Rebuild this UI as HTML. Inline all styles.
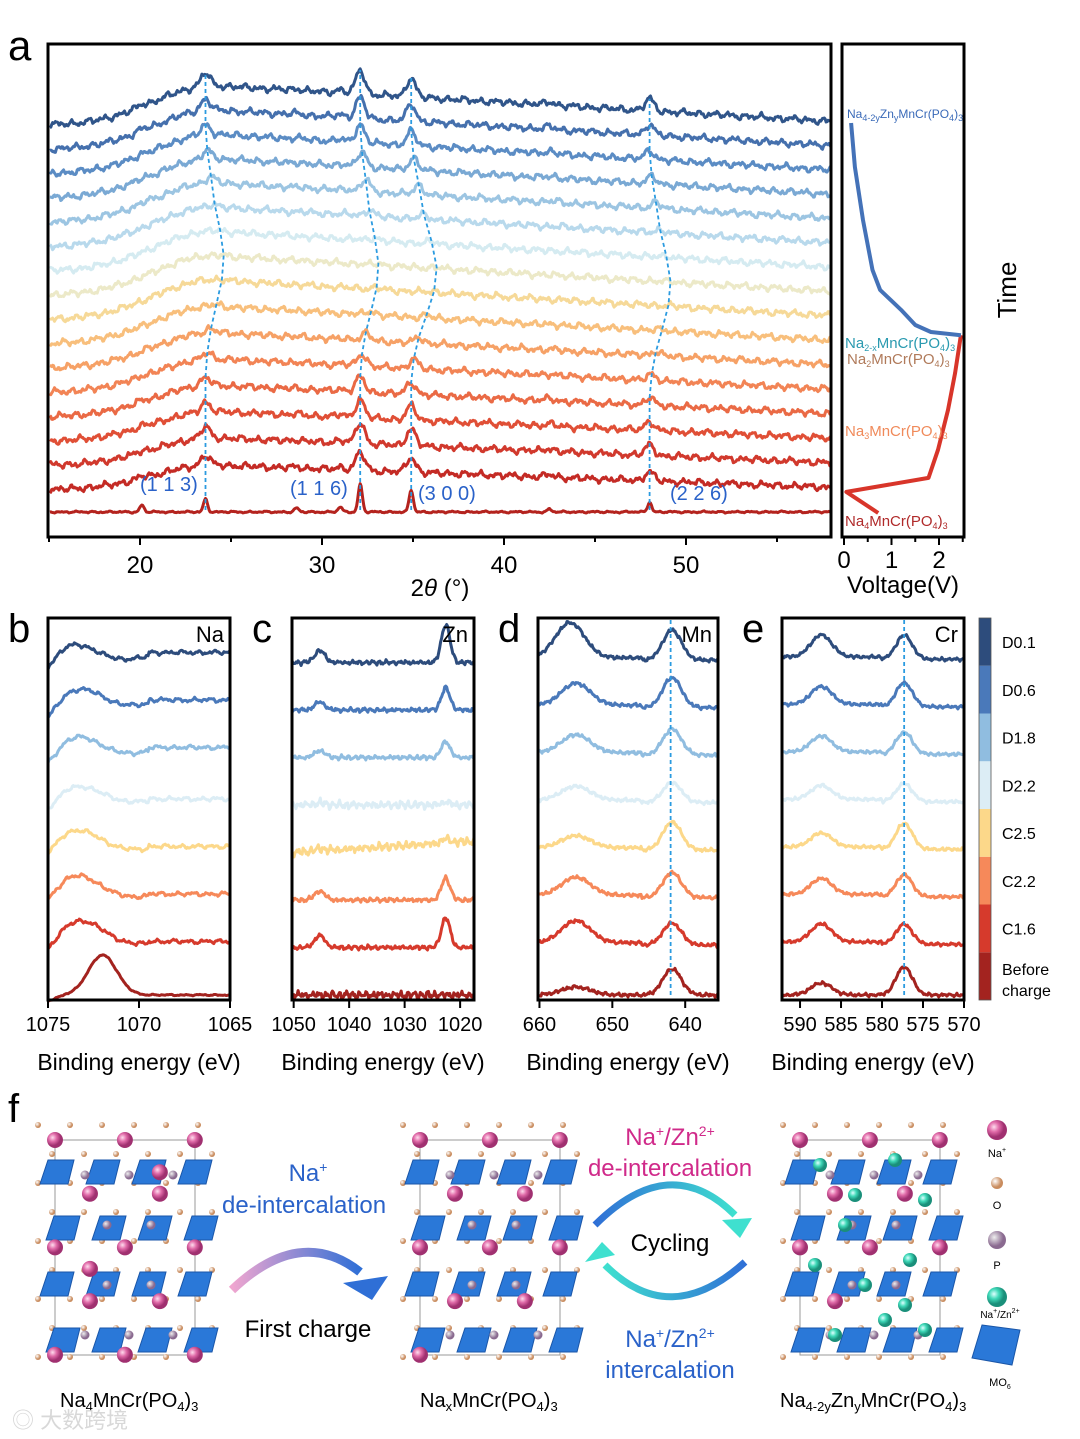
<!DOCTYPE html>
<html><head><meta charset="utf-8">
<style>
body{margin:0;background:#fff;}
svg{display:block;font-family:"Liberation Sans","Noto Sans CJK SC",sans-serif;}
</style></head>
<body>
<svg id="fig" width="1080" height="1439" viewBox="0 0 1080 1439" xmlns="http://www.w3.org/2000/svg">
<defs>
<linearGradient id="g1" x1="0" x2="1"><stop offset="0" stop-color="#f0a6d0"/><stop offset="1" stop-color="#2f6fd6"/></linearGradient>
<linearGradient id="g2" x1="0" x2="1"><stop offset="0" stop-color="#2f6fd6"/><stop offset="1" stop-color="#3fe0cf"/></linearGradient>
<linearGradient id="g3" x1="0" x2="1"><stop offset="0" stop-color="#3fe0cf"/><stop offset="1" stop-color="#2f6fd6"/></linearGradient>
<radialGradient id="pink" cx="0.35" cy="0.35"><stop offset="0" stop-color="#fde"/><stop offset="0.5" stop-color="#e06aa8"/><stop offset="1" stop-color="#a03070"/></radialGradient>
<radialGradient id="teal" cx="0.35" cy="0.35"><stop offset="0" stop-color="#dfffff"/><stop offset="0.5" stop-color="#3fd9b8"/><stop offset="1" stop-color="#1a8f7a"/></radialGradient>
<radialGradient id="purp" cx="0.35" cy="0.35"><stop offset="0" stop-color="#eee"/><stop offset="1" stop-color="#8a6a90"/></radialGradient>
<radialGradient id="tan" cx="0.35" cy="0.35"><stop offset="0" stop-color="#fff"/><stop offset="1" stop-color="#c98c5e"/></radialGradient>
</defs>
<g id="layer"></g>
</svg>
<script>
// ---------- Panel a data ----------
const traceLabels = ['ref','t1','t2','t3','t4','t5','t6','t7','t8','t9','t10','t11','t12','t13','t14','t15','t16'];
const peakCenters = [20.1, 23.6, 28.6, 31.0, 32.1, 34.9, 42.5, 48.0];
const refHeights = [7, 13, 4, 5, 28, 22, 3, 10];
const trHeights = [3, 16, 2, 4, 30, 24, 4, 15];
const peakShiftFactor = [0.8, 1, 1, 1, 1, 1.4, 1.1, 1.15];
const traceShift = [0, 0, 0, 0, 0, 0.1, 0.3, 0.6, 0.9, 1.0, 0.8, 0.5, 0.3, 0.1, 0, 0, 0];
const traceIntensity = [1, 0.6, 0.7, 0.6, 0.5, 0.4, 0.25, 0.12, 0.06, 0.05, 0.1, 0.2, 0.4, 0.5, 0.6, 0.7, 0.8];
const humpAmp = [0, 25, 28, 30, 32, 34, 36, 38, 40, 40, 40, 40, 40, 40, 40, 40, 40];
const xTicksA = [20, 30, 40, 50];
const voltTicks = [0, 1, 2];
const chargeV = [0.72, 0.05, 1.78, 1.98, 2.19, 2.34, 2.46];
const chargeT = [0, 5.4, 9.0, 16.2, 26.4, 35.9, 45.6];
const dischargeV = [2.46, 1.83, 1.5, 1.2, 0.76, 0.6, 0.4, 0.23, 0.15];
const dischargeT = [45.6, 46.4, 48.2, 52.1, 57.2, 62.3, 75.1, 88.7, 100];
// ---------- XPS data (bottom -> top) ----------
const stateLabels = ['Before charge','C1.6','C2.2','C2.5','D2.2','D1.8','D0.6','D0.1'];
const naCenter = [1072.0, 1073.3, 1073.5, 1073.5, 1073.4, 1073.5, 1073.4, 1073.7];
const naHeight = [40, 32, 30, 28, 24, 30, 30, 28];
const znCenters = [1045.3, 1022.6];
const znHigh = [0, 30, 22, 4, 3, 16, 22, 38];
const znLow = [0, 12, 9, 2, 2, 7, 8, 12];
const mnHigh = [26, 22, 25, 28, 20, 26, 30, 30];
const mnLow = [8, 22, 18, 12, 14, 18, 22, 35];
const crHigh = [28, 20, 22, 26, 18, 22, 24, 24];
const crLow = [12, 18, 16, 14, 14, 16, 18, 22];
const stateColors = ['#a3231f','#d63a2c','#f6895a','#fcd88a','#dcedf5','#90bde0','#4a79ba','#2d4c7c'];

const NS='http://www.w3.org/2000/svg';
const L=document.getElementById('layer');
function mk(tag,attrs,parent){const e=document.createElementNS(NS,tag);for(const k in attrs)e.setAttribute(k,attrs[k]);(parent||L).appendChild(e);return e;}
function txt(x,y,s,size,attrs,parent){const e=mk('text',Object.assign({x:x,y:y,'font-size':size,fill:'#000'},attrs||{}),parent);e.innerHTML=s;return e;}
function wig(d,i,a){return a*(0.9*Math.sin(d*7.3+i*1.7)+0.6*Math.sin(d*13.1+i*2.9)+0.5*Math.sin(d*23.7+i*0.8)+0.35*Math.sin(d*41.3+i*3.3)+0.3*Math.sin(d*3.1+i*2.2));}
const g=(d,c,s)=>Math.exp(-((d-c)/s)*((d-c)/s));

// ---------- Panel a ----------
const colorsA=['#b4231e','#c42b25','#d1392d','#e04f36','#ea6a45','#f28455','#f6a166','#f8bf7c','#f6d998','#ece9c8','#d5ebf1','#b8d9ec','#9cc5e2','#7aa9d4','#5b8cc4','#4570ad','#30558a'];
const xa=d=>49+(d-15)*18.2;
const baseA=i=>i===0?512:490-(i-1)*24.3;
function hump(d){return d<24?g(d,24,4.5):Math.max(0,1-(d-24)/38);}
function yA(i,d){
  let y=baseA(i)-humpAmp[i]*hump(d);
  peakCenters.forEach((c,k)=>{const cc=c+traceShift[i]*peakShiftFactor[k];
    const h=i===0?refHeights[k]:trHeights[k]*traceIntensity[i];
    y-=h*g(d,cc,i===0?0.16:0.35);});
  y-=wig(d,i,i===0?0.5:1.9);
  return y;}
const ga=mk('g',{});


for(let i=0;i<traceLabels.length;i++){
  let p='';for(let d=15.05;d<=57.95;d+=0.05){p+=(p?'L':'M')+xa(d).toFixed(1)+','+yA(i,d).toFixed(1);}
  const e=mk('path',{d:p,fill:'none',stroke:colorsA[i],'stroke-width':3,'stroke-linejoin':'round'},ga);
  
  
}
[1,4,5,7].forEach(k=>{
  let p='';for(let i=0;i<traceLabels.length;i++){const cc=peakCenters[k]+traceShift[i]*peakShiftFactor[k];
    p+=(p?'L':'M')+xa(cc).toFixed(1)+','+(baseA(i)-(i===0?2:humpAmp[i]*hump(cc)+trHeights[k]*traceIntensity[i])).toFixed(1);}
  const e=mk('path',{d:p,fill:'none',stroke:'#2b9be0','stroke-width':1.8,'stroke-dasharray':'4,3'},ga);
  
  
});
mk('rect',{x:48,y:44,width:783,height:493,fill:'none',stroke:'#000','stroke-width':3},ga);
xTicksA.forEach(t=>{mk('line',{x1:xa(t),x2:xa(t),y1:537,y2:545,stroke:'#000','stroke-width':2},ga);
  txt(xa(t),573,t,24,{'text-anchor':'middle'},ga);});
[15,25,35,45,55].forEach(t=>mk('line',{x1:xa(t),x2:xa(t),y1:537,y2:542,stroke:'#000','stroke-width':2},ga));
txt(440,596,'2<tspan font-style="italic">θ</tspan> (°)',24,{'text-anchor':'middle'},ga);
const pl=[['(1 1 3)',140,491],['(1 1 6)',290,495],['(3 0 0)',418,500],['(2 2 6)',670,500]];
pl.forEach(q=>{const e=txt(q[1],q[2],q[0],20,{fill:'#2a62c9'},ga);});
txt(8,60,'a',42,{},ga);

// voltage panel
const gv=mk('g',{});


const xv=v=>844+v*47.5, yt=t=>513-t*3.9;
function poly(vs,ts){return vs.map((v,i)=>(i?'L':'M')+xv(v).toFixed(1)+','+yt(ts[i]).toFixed(1)).join('');}
const ce=mk('path',{d:poly(chargeV,chargeT),fill:'none',stroke:'#d8352a','stroke-width':4,'stroke-linejoin':'round'},gv);


const de=mk('path',{d:poly(dischargeV,dischargeT),fill:'none',stroke:'#4472b8','stroke-width':4,'stroke-linejoin':'round'},gv);


mk('rect',{x:842,y:44,width:122,height:493,fill:'none',stroke:'#000','stroke-width':3},gv);
voltTicks.forEach(t=>{mk('line',{x1:xv(t),x2:xv(t),y1:537,y2:545,stroke:'#000','stroke-width':2},gv);txt(xv(t),568,t,24,{'text-anchor':'middle'},gv);});
[0.5,1.5,2.5].forEach(t=>mk('line',{x1:xv(t),x2:xv(t),y1:537,y2:542,stroke:'#000','stroke-width':2},gv));
txt(903,593,'Voltage(V)',24,{'text-anchor':'middle'},gv);
txt(0,0,'Time',26,{transform:'translate(1016,290) rotate(-90)','text-anchor':'middle'},gv);
const sub=(s)=>'<tspan font-size="9" dy="3">'+s+'</tspan><tspan dy="-3">';
txt(847,118,'Na'+sub('4-2y')+'Zn'+sub('y')+'MnCr(PO'+sub('4')+')'+sub('3')+'</tspan></tspan></tspan></tspan>',12,{fill:'#3a6ab8'},gv);
txt(845,348,'Na'+sub('2-x')+'MnCr(PO'+sub('4')+')'+sub('3')+'</tspan></tspan></tspan>',15,{fill:'#2a9ab0'},gv);
txt(847,364,'Na'+sub('2')+'MnCr(PO'+sub('4')+')'+sub('3')+'</tspan></tspan></tspan>',15,{fill:'#b07a5a'},gv);
txt(845,436,'Na'+sub('3')+'MnCr(PO'+sub('4')+')'+sub('3')+'</tspan></tspan></tspan>',15,{fill:'#f08a5a'},gv);
txt(845,526,'Na'+sub('4')+'MnCr(PO'+sub('4')+')'+sub('3')+'</tspan></tspan></tspan>',15,{fill:'#b02a2a'},gv);

// ---------- XPS panels ----------
const panels=[
 {id:'na',x0:48,x1:230,lo:1075,hi:1065,ticks:[1075,1070,1065],el:'Na',let:'b',dash:null},
 {id:'zn',x0:292,x1:474,lo:1050.3,hi:1017.5,ticks:[1050,1040,1030,1020],el:'Zn',let:'c',dash:null},
 {id:'mn',x0:538,x1:718,lo:660.2,hi:635.5,ticks:[660,650,640],el:'Mn',let:'d',dash:642},
 {id:'cr',x0:782,x1:964,lo:592.2,hi:570,ticks:[590,585,580,575,570],el:'Cr',let:'e',dash:577.3}];
function yX(p,i,e){
  const b=995-i*47.5; let y=b;
  if(p.id==='na'){y-=naHeight[i]*g(e,naCenter[i],i===0?1.1:1.9); y-=(i===0?0:6+(i>4?4:0))*(e<1069.5?1:0.6+0.4*(1069.5-e)); y+=(e>1074?(e-1074)*6:0); y-=wig(e,i,i===0?0.4:1.2);}
  if(p.id==='zn'){y-=znHigh[i]*g(e,znCenters[1],1.1)+znLow[i]*g(e,znCenters[0],1.3); y-=(i===3?(1050-e)*0.35:0); y-=wig(e*0.7,i,(i===0||i===4||i===3)?2.2:1.2);}
  if(p.id==='mn'){y-=mnHigh[i]*g(e,641.8,1.8)+mnLow[i]*g(e,i===7?655.8:655,2.8)+ (i===0?0:8)*(e>646?0.6:0.3); y-=wig(e,i,1.0);}
  if(p.id==='cr'){y-=crHigh[i]*g(e,577.3,1.4)+crLow[i]*g(e,587.4,1.8)+(i===0?0:8)*(e>580?0.7:0.4); y-=wig(e,i,0.9);}
  return y;}
panels.forEach(p=>{
  const gp=mk('g',{});
  
  
  const xs=e=>p.x0+(p.lo-e)/(p.lo-p.hi)*(p.x1-p.x0);
  for(let i=0;i<stateLabels.length;i++){
    let d='';const n=180;for(let k=0;k<=n;k++){const e=p.lo-(p.lo-p.hi)*(k/n);d+=(k?'L':'M')+xs(e).toFixed(1)+','+yX(p,i,e).toFixed(1);}
    const pe=mk('path',{d:d,fill:'none',stroke:stateColors[i],'stroke-width':3,'stroke-linejoin':'round'},gp);
    
    
  }
  if(p.dash){mk('line',{x1:xs(p.dash),x2:xs(p.dash),y1:620,y2:998,stroke:'#2b9be0','stroke-width':1.8,'stroke-dasharray':'4,3'},gp);}
  mk('rect',{x:p.x0,y:618,width:p.x1-p.x0,height:382,fill:'none',stroke:'#000','stroke-width':3},gp);
  p.ticks.forEach(t=>{mk('line',{x1:xs(t),x2:xs(t),y1:1000,y2:1008,stroke:'#000','stroke-width':2},gp);
    txt(xs(t),1031,t,20,{'text-anchor':'middle'},gp);});
  txt(p.x1-6,642,p.el,22,{'text-anchor':'end'},gp);
  txt((p.x0+p.x1)/2,1070,'Binding energy (eV)',23,{'text-anchor':'middle'},gp);
  txt(p.x0-40,642,p.let,40,{},gp);
});
// colorbar
const gc=mk('g',{});


for(let i=0;i<8;i++){const y=618+(7-i)*47.75;
  mk('rect',{x:979,y:y,width:12,height:47.75,fill:stateColors[i]},gc);
  if(i===0){txt(1002,975,'Before',16,{},gc);txt(1002,996,'charge',16,{},gc);}
  else txt(1002,y+30,stateLabels[i],16,{},gc);}
mk('rect',{x:979,y:618,width:12,height:382,fill:'none',stroke:'#555','stroke-width':0.8},gc);

// ---------- Panel f ----------
const gf=mk('g',{});


txt(8,1122,'f',40,{},gf);
function structure(ox,nNa,teal){
  const gs=mk('g',{},gf);
  mk('rect',{x:ox+25,y:1140,width:140,height:215,fill:'none',stroke:'#999','stroke-width':1},gs);
  for(let c=0;c<6;c++)for(let r=0;r<9;r++){mk('circle',{cx:ox+8+c*32+(r%2)*14,cy:1125+r*29,r:3,fill:'url(#tan)'},gs);}
  for(let c=0;c<4;c++)for(let r=0;r<4;r++){const x=ox+10+c*46+(r%2?6:0),y=1160+r*56;
    mk('path',{d:`M${x+8},${y} L${x+34},${y} L${x+28},${y+24} L${x},${y+24}Z`,fill:'#2a78d8',stroke:'#1a56a8','stroke-width':1},gs);}
  const pts=[[0,0],[3,0],[6,0],[1.5,1],[4.5,1],[0,2],[3,2],[6,2],[1.5,3],[4.5,3],[0,4],[3,4],[6,4],[1.5,2.4],[4.5,0.6]];
  for(let k=0;k<Math.min(nNa,pts.length);k++){const q=pts[k];mk('circle',{cx:ox+25+q[0]*23.3,cy:1140+q[1]*53.7,r:8,fill:'url(#pink)'},gs);}
  for(let k=0;k<10;k++){mk('circle',{cx:ox+55+(k%5)*22,cy:1175+Math.floor(k/5)*110+(k%2)*50,r:4.5,fill:'url(#purp)'},gs);}
  if(teal){const tp=[[45,1165],[80,1195],[120,1160],[150,1200],[40,1265],[90,1285],[135,1260],[60,1335],[110,1320],[150,1330],[70,1225],[130,1305]];
    tp.forEach(q=>mk('circle',{cx:ox+q[0],cy:q[1],r:7,fill:'url(#teal)'},gs));}
}
structure(30,15,false);structure(395,11,false);structure(775,9,true);
const sub2=(s)=>'<tspan font-size="13" dy="4">'+s+'</tspan><tspan dy="-4">';
txt(60,1407,'Na'+sub2('4')+'MnCr(PO'+sub2('4')+')'+sub2('3')+'</tspan></tspan></tspan>',20,{},gf);
txt(420,1407,'Na'+sub2('x')+'MnCr(PO'+sub2('4')+')'+sub2('3')+'</tspan></tspan></tspan>',20,{},gf);
txt(780,1407,'Na'+sub2('4-2y')+'Zn'+sub2('y')+'MnCr(PO'+sub2('4')+')'+sub2('3')+'</tspan></tspan></tspan></tspan>',20,{},gf);
txt(308,1181,'Na<tspan font-size="14" dy="-9">+</tspan>',24,{fill:'#2a62c9','text-anchor':'middle'},gf);
txt(222,1213,'de-intercalation',24,{fill:'#2a62c9'},gf);
txt(308,1337,'First charge',24,{'text-anchor':'middle'},gf);
mk('path',{d:'M232,1290 Q300,1225 360,1272',fill:'none',stroke:'url(#g1)','stroke-width':9},gf);
mk('path',{d:'M343,1283 L388,1276 L372,1300 Z',fill:'#2f6fd6'},gf);
txt(670,1145,'Na<tspan font-size="14" dy="-9">+</tspan><tspan dy="9">/Zn</tspan><tspan font-size="14" dy="-9">2+</tspan>',24,{fill:'#d02a8a','text-anchor':'middle'},gf);
txt(670,1176,'de-intercalation',24,{fill:'#d02a8a','text-anchor':'middle'},gf);
txt(670,1251,'Cycling',24,{'text-anchor':'middle'},gf);
mk('path',{d:'M595,1225 Q670,1150 735,1215',fill:'none',stroke:'url(#g2)','stroke-width':7},gf);
mk('path',{d:'M722,1220 L752,1218 L740,1238 Z',fill:'#3fe0cf'},gf);
mk('path',{d:'M745,1262 Q670,1330 605,1265',fill:'none',stroke:'url(#g3)','stroke-width':7},gf);
mk('path',{d:'M615,1255 L585,1262 L602,1242 Z',fill:'#3fe0cf'},gf);
txt(670,1347,'Na<tspan font-size="14" dy="-9">+</tspan><tspan dy="9">/Zn</tspan><tspan font-size="14" dy="-9">2+</tspan>',24,{fill:'#2a62c9','text-anchor':'middle'},gf);
txt(670,1378,'intercalation',24,{fill:'#2a62c9','text-anchor':'middle'},gf);
// atom legend
mk('circle',{cx:997,cy:1130,r:10,fill:'url(#pink)'},gf);txt(997,1157,'Na<tspan font-size="7" dy="-5">+</tspan>',11,{'text-anchor':'middle'},gf);
mk('circle',{cx:997,cy:1183,r:6,fill:'url(#tan)'},gf);txt(997,1209,'O',11,{'text-anchor':'middle'},gf);
mk('circle',{cx:997,cy:1240,r:9,fill:'url(#purp)'},gf);txt(997,1269,'P',11,{'text-anchor':'middle'},gf);
mk('circle',{cx:997,cy:1297,r:10,fill:'url(#teal)'},gf);txt(1000,1318,'Na<tspan font-size="7" dy="-5">+</tspan><tspan dy="5">/Zn</tspan><tspan font-size="7" dy="-5">2+</tspan>',10,{'text-anchor':'middle'},gf);
mk('path',{d:'M982,1325 L1020,1330 L1012,1365 L972,1358 Z',fill:'#2a78d8',stroke:'#1a56a8'},gf);
txt(1000,1386,'MO<tspan font-size="7" dy="3">6</tspan>',11,{'text-anchor':'middle'},gf);
txt(12,1428,'◎ 大数跨境',22,{fill:'#d8d8d8'},gf);
</script>
</body></html>
